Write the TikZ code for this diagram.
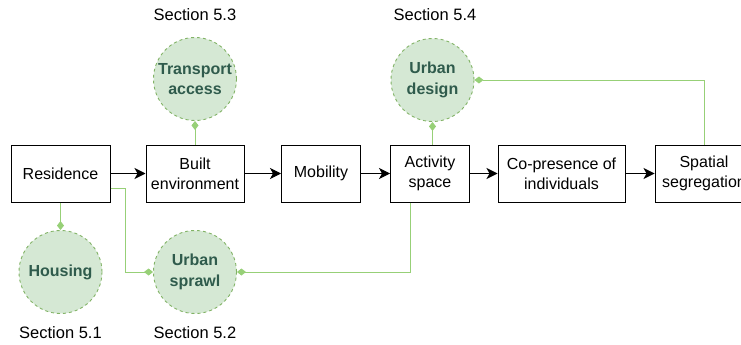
\documentclass[tikz,border=0pt]{standalone}
\usepackage{fontspec}
\setmainfont{Liberation Sans}
\usetikzlibrary{positioning,arrows.meta}

\definecolor{topicfill}{HTML}{D5E8D4}
\definecolor{topicline}{HTML}{82B366}
\definecolor{topictext}{HTML}{2F5B4C}
\definecolor{linkgreen}{HTML}{97D077}

\tikzset{
    stage/.style={draw, line width=1pt, minimum height=57pt, align=center,
        inner sep=2pt, font=\fontsize{16}{20}\selectfont},
    topic/.style={circle, draw=topicline, dashed, line width=0.9pt, fill=topicfill,
        minimum size=83pt, inner sep=0pt, align=center, text=topictext,
        font=\bfseries\fontsize{16}{20.5}\selectfont},
    section/.style={font=\fontsize{16.5}{18}\selectfont},
    flow/.style={-{Stealth[length=11pt,width=11pt,inset=3pt]}, line width=1pt},
    link/.style={-{Diamond[length=9pt,width=7pt]}, draw=linkgreen, line width=1pt}
}

\begin{document}
\begin{tikzpicture}[x=1pt,y=1pt]
    \useasboundingbox (0,0) rectangle (741,-345);
    % chain of stages
    \node[stage, minimum width=99pt] (res) at (60.5,-173.5) {Residence};
    \node[stage, minimum width=98pt] (built) at (195,-173.5) {Built\\environment};
    \node[stage, minimum width=79pt] (mob) at (321,-173.5) {Mobility};
    \node[stage, minimum width=79pt] (act) at (430,-173.5) {Activity\\space};
    \node[stage, minimum width=127pt] (copres) at (561.5,-173.5) {Co-presence of\\individuals};
    \node[stage, minimum width=98pt] (seg) at (704,-173.5) {Spatial\\segregation};
    \foreach \a/\b in {res/built,built/mob,mob/act,act/copres,copres/seg}
        \draw[flow] (\a) -- (\b);
    % topics
    \node[topic] (housing) at (60.5,-272) {Housing};
    \node[topic] (sprawl) at (195,-272) {Urban\\sprawl};
    \node[topic] (transport) at (195,-79) {Transport\\access};
    \node[topic] (design) at (432.5,-80) {Urban\\design};
    % section labels
    \node[section] (s1) at (60.5,-333) {Section 5.1};
    \node[section] (s2) at (195,-333) {Section 5.2};
    \node[section] (s3) at (195,-15) {Section 5.3};
    \node[section] (s4) at (435,-15) {Section 5.4};
    % links to topics
    \draw[link] (res.south) -- (housing.north);
    \draw[link] ([yshift=-14.5pt]res.east) -- ++(15,0) |- (sprawl.west);
    \draw[link] ([xshift=-19.5pt]act.south) |- (sprawl.east);
    \draw[link] (built.north) -- (transport.south);
    \draw[link] (act.north -| design.south) -- (design.south);
    \draw[link] (seg.north) |- (design.east);
\end{tikzpicture}
\end{document}
